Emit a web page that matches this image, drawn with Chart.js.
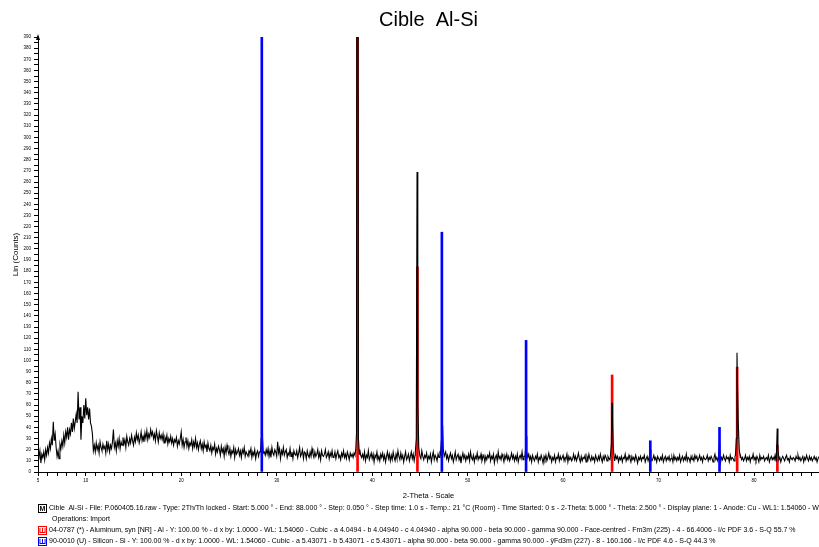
<!DOCTYPE html>
<html>
<head>
<meta charset="utf-8">
<script src="https://cdn.jsdelivr.net/npm/chart.js@4.4.1/dist/chart.umd.min.js"></script>
<style>
  html, body { margin: 0; padding: 0; background: #fff; }
  #wrap { position: relative; width: 819px; height: 547px; overflow: hidden; }
  #chart { position: absolute; left: 0; top: 0; }
  .leg { position: absolute; left: 38px; white-space: nowrap; font-family: "Liberation Sans", Arial, sans-serif; font-size: 7px; color: #000; line-height: 10px; }
  .ico { display: inline-block; width: 7px; height: 7px; border: 1px solid #000; font-size: 7px; line-height: 7px; text-align: center; vertical-align: middle; margin-right: 2px; font-weight: bold; overflow: hidden; }
</style>
</head>
<body>
<div id="wrap">
  <canvas id="chart" width="819" height="547"></canvas>
  <div class="leg" style="top:503px"><span class="ico">M</span>Cible&nbsp; Al-Si - File: P.060405.16.raw - Type: 2Th/Th locked - Start: 5.000 ° - End: 88.000 ° - Step: 0.050 ° - Step time: 1.0 s - Temp.: 21 °C (Room) - Time Started: 0 s - 2-Theta: 5.000 ° - Theta: 2.500 ° - Display plane: 1 - Anode: Cu - WL1: 1.54060 - W</div>
  <div class="leg" style="top:514px; left:52px">Operations: Import</div>
  <div class="leg" style="top:525px"><span class="ico" style="border-color:#f00;color:#f00">Ш</span>04-0787 (*) - Aluminum, syn [NR] - Al - Y: 100.00 % - d x by: 1.0000 - WL: 1.54060 - Cubic - a 4.0494 - b 4.04940 - c 4.04940 - alpha 90.000 - beta 90.000 - gamma 90.000 - Face-centred - Fm3m (225) - 4 - 66.4006 - I/c PDF 3.6 - S-Q 55.7 %</div>
  <div class="leg" style="top:536px"><span class="ico" style="border-color:#00f;color:#00f">Ш</span>90-0010 (U) - Silicon - Si - Y: 100.00 % - d x by: 1.0000 - WL: 1.54060 - Cubic - a 5.43071 - b 5.43071 - c 5.43071 - alpha 90.000 - beta 90.000 - gamma 90.000 - ÿFd3m (227) - 8 - 160.166 - I/c PDF 4.6 - S-Q 44.3 %</div>
</div>
<script>
// scan background, every 0.1 deg from 5.0 (one row per degree)
var scanStart = 5;
var scanStep = 0.1;
var scanCounts = [
  17, 14, 19, 8, 16, 13, 18, 11, 20, 15,
  22, 17, 26, 21, 30, 24, 45, 28, 34, 22,
  14, 19, 12, 25, 21, 28, 23, 33, 26, 36,
  31, 40, 29, 38, 34, 44, 36, 48, 39, 45,
  52, 44, 72, 47, 58, 29, 50, 44, 60, 48,
  66, 51, 58, 47, 57, 44, 41, 34, 19, 24,
  18, 26, 20, 24, 17, 27, 22, 19, 25, 21,
  23, 17, 28, 20, 25, 18, 24, 21, 27, 38,
  22, 26, 19, 28, 23, 30, 21, 27, 24, 31,
  25, 29, 22, 32, 27, 24, 30, 26, 33, 28,
  24, 31, 27, 35, 29, 33, 26, 30, 36, 28,
  32, 27, 35, 30, 37, 29, 34, 31, 38, 33,
  36, 30, 34, 28, 37, 32, 27, 35, 30, 33,
  29, 34, 26, 31, 28, 33, 25, 30, 27, 32,
  26, 30, 24, 29, 27, 31, 23, 28, 25, 30,
  36, 24, 29, 22, 27, 31, 23, 28, 21, 26,
  24, 29, 21, 27, 23, 30, 22, 26, 20, 25,
  28, 21, 25, 19, 27, 22, 24, 18, 26, 21,
  19, 24, 17, 22, 20, 25, 16, 21, 18, 23,
  20, 15, 23, 18, 21, 14, 22, 17, 24, 19,
  16, 21, 14, 19, 17, 22, 13, 20, 16, 18,
  21, 15, 19, 13, 20, 17, 22, 14, 18, 16,
  14, 19, 17, 21, 13, 18, 15, 20, 12, 17,
  19, 14, 18, 21, 16, 20, 22, 18, 15, 20,
  16, 21, 14, 19, 13, 22, 17, 15, 20, 18,
  14, 27, 17, 21, 12, 19, 16, 22, 15, 18,
  20, 13, 17, 15, 21, 14, 18, 12, 19, 16,
  15, 19, 13, 17, 22, 14, 16, 20, 12, 18,
  17, 12, 19, 15, 13, 18, 14, 21, 16, 13,
  18, 14, 16, 20, 13, 17, 11, 19, 15, 14,
  16, 20, 13, 15, 18, 12, 17, 14, 19, 13,
  14, 18, 12, 16, 19, 13, 15, 11, 17, 14,
  19, 13, 16, 12, 18, 15, 11, 17, 14, 16,
  13, 17, 15, 12, 18, 14, 16, 20, 15, 13,
  16, 12, 18, 10, 15, 13, 19, 11, 14, 17,
  12, 16, 9, 15, 13, 18, 11, 14, 10, 16,
  13, 17, 11, 15, 9, 14, 18, 12, 16, 10,
  15, 11, 18, 13, 10, 16, 12, 19, 14, 11,
  17, 12, 15, 9, 14, 18, 11, 13, 16, 10,
  14, 18, 12, 16, 10, 15, 13, 17, 11, 14,
  16, 12, 19, 14, 11, 15, 13, 17, 10, 14,
  12, 16, 9, 14, 18, 11, 15, 13, 10, 16,
  13, 17, 11, 15, 12, 16, 14, 18, 12, 15,
  10, 14, 17, 12, 15, 9, 13, 18, 11, 14,
  16, 11, 14, 8, 13, 17, 12, 15, 10, 14,
  12, 16, 10, 18, 13, 11, 15, 9, 14, 12,
  17, 11, 14, 12, 16, 10, 13, 15, 9, 14,
  11, 15, 13, 17, 10, 14, 12, 16, 8, 13,
  15, 10, 18, 12, 14, 11, 16, 13, 9, 15,
  12, 16, 11, 14, 10, 13, 17, 12, 15, 10,
  14, 11, 16, 9, 13, 15, 12, 18, 11, 14,
  12, 15, 10, 13, 16, 11, 14, 9, 15, 12,
  10, 14, 12, 16, 9, 13, 11, 15, 12, 8,
  14, 11, 15, 10, 13, 17, 12, 14, 9, 13,
  11, 15, 9, 13, 12, 16, 10, 14, 11, 13,
  15, 10, 13, 12, 16, 9, 14, 11, 13, 10,
  12, 16, 11, 14, 10, 13, 17, 12, 9, 14,
  10, 13, 12, 15, 9, 14, 11, 16, 12, 10,
  14, 11, 13, 9, 15, 12, 10, 14, 11, 16,
  12, 9, 14, 11, 15, 13, 10, 14, 12, 11,
  13, 16, 11, 14, 10, 15, 12, 14, 9, 13,
  11, 14, 9, 13, 12, 16, 10, 13, 11, 15,
  12, 9, 14, 11, 13, 10, 15, 12, 8, 13,
  11, 14, 10, 13, 12, 15, 9, 12, 14, 10,
  13, 11, 14, 10, 12, 15, 11, 13, 9, 14,
  12, 10, 13, 11, 15, 9, 12, 14, 10, 13,
  11, 14, 10, 12, 13, 9, 15, 11, 13, 10,
  13, 11, 15, 9, 12, 14, 10, 13, 11, 16,
  10, 13, 12, 9, 14, 11, 13, 10, 15, 12,
  14, 10, 12, 15, 11, 13, 9, 14, 12, 11,
  12, 15, 10, 13, 11, 14, 12, 9, 13, 16,
  11, 13, 10, 14, 12, 9, 13, 11, 15, 12,
  10, 14, 12, 13, 9, 15, 11, 13, 12, 10,
  14, 11, 13, 10, 15, 12, 14, 11, 13, 10,
  12, 15, 10, 13, 11, 14, 9, 13, 12, 16,
  11, 13, 10, 14, 12, 9, 15, 11, 13, 12,
  14, 10, 12, 13, 11, 15, 9, 12, 14, 11,
  13, 11, 15, 10, 12, 14, 11, 13, 9, 12,
  14, 12, 10, 13, 15, 11, 12, 9, 14, 12,
  11, 13, 12, 10, 14, 12, 15, 11, 13, 10,
  12, 14, 9, 13, 11, 15, 12, 10, 14, 11,
  13, 10, 12, 14, 11, 13, 9, 12, 14, 11,
  12, 14, 10, 13, 11, 12, 14, 10, 13, 12
];

// measured peaks of the scan: [2-theta, counts]
var peakSi28 = [[28.30, 18], [28.38, 30], [28.42, 95], [28.46, 90], [28.52, 30], [28.60, 17]];
var peakAl38 = [[38.28, 20], [38.36, 35], [38.42, 900], [38.50, 700], [38.56, 30], [38.66, 16]];
var peakAl44 = [[44.52, 18], [44.62, 30], [44.70, 269], [44.76, 150], [44.80, 60], [44.88, 22], [45.00, 14]];
var peakSi47 = [[47.15, 16], [47.25, 28], [47.30, 53], [47.34, 36], [47.38, 42], [47.45, 20], [47.55, 14]];
var peakSi56 = [[56.00, 14], [56.08, 22], [56.13, 32], [56.20, 18], [56.30, 13]];
var peakAl65 = [[64.95, 14], [65.05, 25], [65.12, 62], [65.18, 48], [65.25, 22], [65.35, 13]];
var peakSi69 = [[69.05, 12], [69.13, 20], [69.20, 12]];
var peakSi76 = [[76.28, 13], [76.37, 28], [76.45, 14]];
var peakAl78 = [[78.05, 15], [78.14, 30], [78.21, 107], [78.27, 75], [78.34, 45], [78.45, 20], [78.55, 13]];
var peakAl82 = [[82.33, 12], [82.42, 39], [82.50, 20], [82.60, 12]];
var scanPeaks = [peakSi28, peakAl38, peakAl44, peakSi47, peakSi56, peakAl65, peakSi69, peakSi76, peakAl78, peakAl82];

// reference patterns (sticks)
var alTheta = [38.47, 44.74, 65.13, 78.23, 82.44];
var alCounts = [390, 184, 87, 94, 24];
var siTheta = [28.44, 47.30, 56.12, 69.13, 76.38, 88.03];
var siCounts = [390, 215, 118, 28, 40, 46];

var scanData = [];
scanCounts.forEach(function (c, i) {
  var t = scanStart + i * scanStep;
  var inPeak = scanPeaks.some(function (p) { return t >= p[0][0] && t <= p[p.length - 1][0]; });
  if (!inPeak) scanData.push({ x: t, y: c });
});
scanPeaks.forEach(function (p) {
  p.forEach(function (pt) { scanData.push({ x: pt[0], y: pt[1] }); });
});
scanData.sort(function (a, b) { return a.x - b.x; });

var sticks = function (th, cn) {
  return th.map(function (t, i) { return { x: t, y: cn[i] }; });
};

var fontFam = '"Liberation Sans", Arial, sans-serif';

var axisArrow = {
  id: 'axisArrow',
  afterDraw: function (chart) {
    var c = chart.ctx, a = chart.chartArea;
    c.save();
    c.fillStyle = '#000';
    c.beginPath();
    c.moveTo(a.left, a.top - 3);
    c.lineTo(a.left - 2, a.top + 3);
    c.lineTo(a.left + 2, a.top + 3);
    c.closePath();
    c.fill();
    c.restore();
  }
};

var ctx = document.getElementById('chart');
var chart = new Chart(ctx, {
  type: 'line',
  data: {
    datasets: [{
      type: 'bar',
      label: 'Silicon',
      data: sticks(siTheta, siCounts),
      backgroundColor: '#0000ff',
      barThickness: 2,
      grouped: false,
      order: 0
    }, {
      label: 'Cible  Al-Si',
      data: scanData,
      borderColor: '#000',
      borderWidth: 1.1,
      pointRadius: 0,
      tension: 0,
      fill: false,
      order: 1
    }, {
      type: 'bar',
      label: 'Aluminum',
      data: sticks(alTheta, alCounts),
      backgroundColor: '#ff0000',
      barThickness: 2,
      grouped: false,
      order: 2
    }]
  },
  options: {
    responsive: false,
    animation: false,
    devicePixelRatio: 1,
    layout: { padding: { left: 0, right: 0, top: 0, bottom: 47 } },
    plugins: {
      legend: { display: false },
      tooltip: { enabled: false },
      title: {
        display: true,
        text: 'Cible  Al-Si',
        fullSize: false,
        color: '#000',
        font: { family: fontFam, size: 20, weight: 'normal' },
        padding: { top: 8, bottom: 5 }
      }
    },
    scales: {
      x: {
        type: 'linear',
        min: 5,
        max: 86.8,
        offset: false,
        afterFit: function (s) { s.height = 28; },
        border: { color: '#000', width: 1 },
        grid: { display: true, drawOnChartArea: false, offset: false, tickLength: 4, color: '#000' },
        ticks: {
          stepSize: 1,
          includeBounds: false,
          autoSkip: false,
          maxRotation: 0,
          padding: 2,
          color: '#000',
          font: { family: fontFam, size: 4.5 },
          callback: function (v) { return (v === 5 || v % 10 === 0) ? String(v) : ''; }
        },
        title: {
          display: true,
          text: '2-Theta - Scale',
          color: '#000',
          font: { family: fontFam, size: 7.5 },
          padding: { top: 0, bottom: 0 }
        }
      },
      y: {
        min: 0,
        max: 390,
        afterFit: function (s) { s.width = 38; },
        border: { color: '#000', width: 1 },
        grid: { display: true, drawOnChartArea: false, tickLength: 4, color: '#000' },
        ticks: {
          stepSize: 5,
          autoSkip: false,
          padding: 3,
          color: '#000',
          font: { family: fontFam, size: 4.5 },
          callback: function (v) { return v % 10 === 0 ? String(v) : ''; }
        },
        title: {
          display: true,
          text: 'Lin (Counts)',
          color: '#000',
          font: { family: fontFam, size: 8 },
          padding: { top: 11, bottom: 0 }
        }
      }
    }
  },
  plugins: [axisArrow]
});
</script>
</body>
</html>
